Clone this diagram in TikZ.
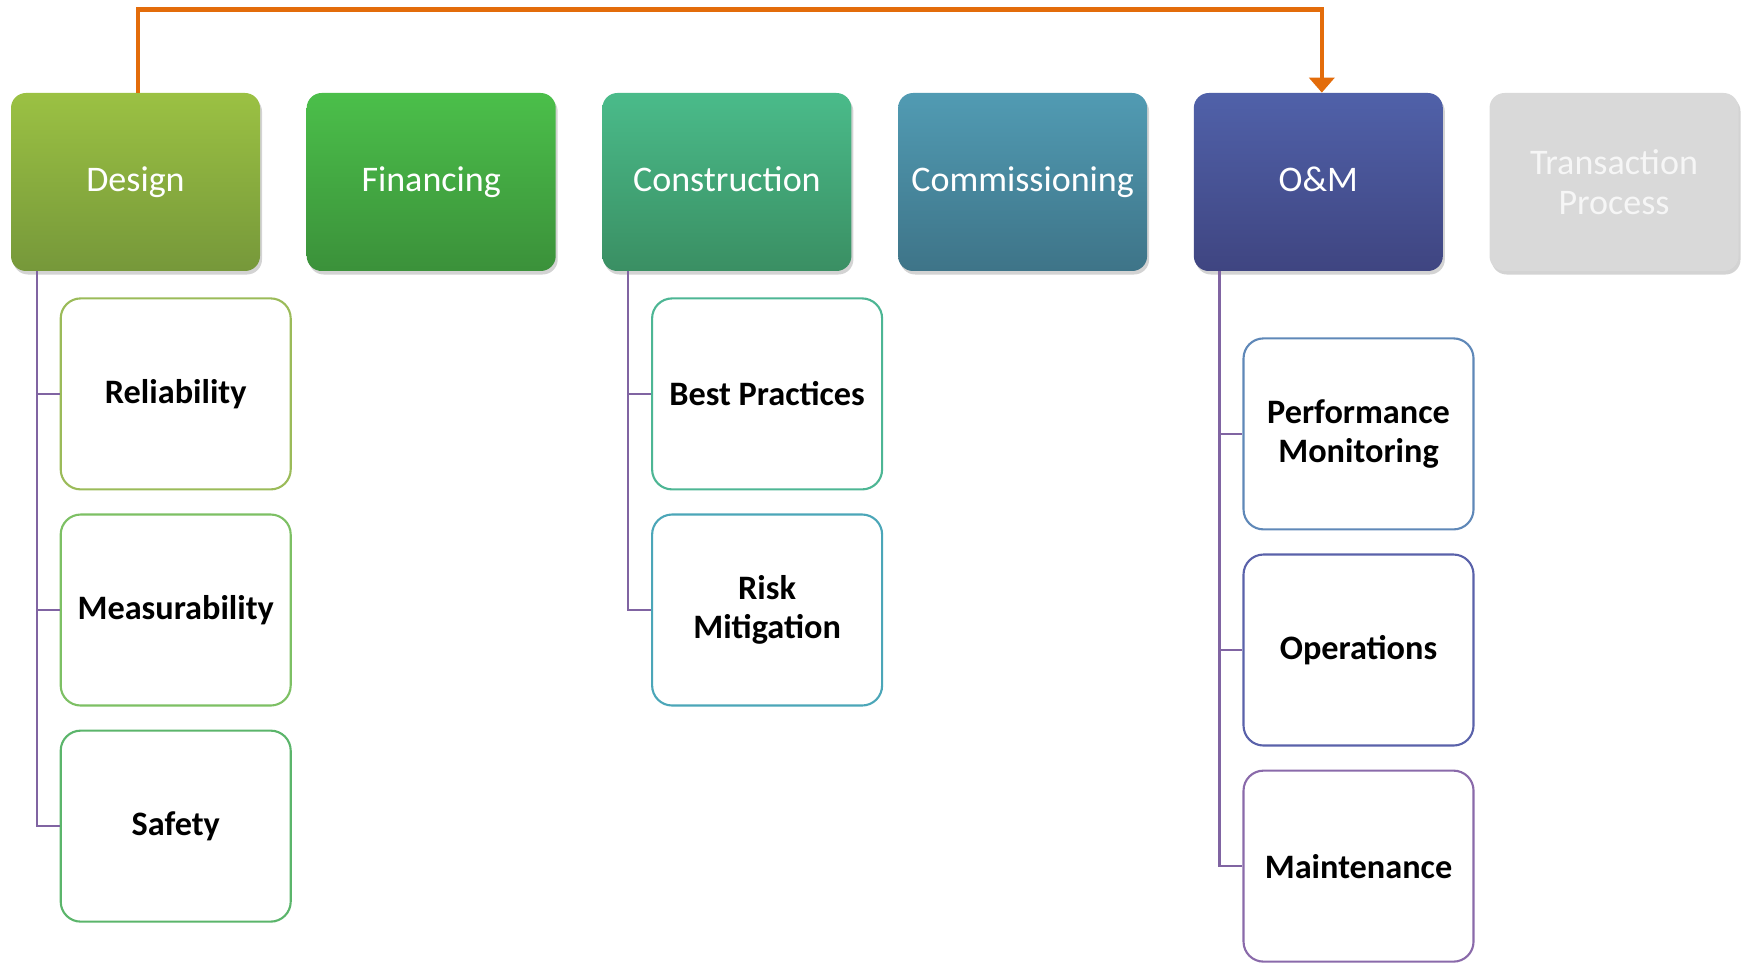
\documentclass[tikz,border=0pt]{standalone}
\usepackage{fontspec}
\setmainfont{Carlito}
\usetikzlibrary{positioning,calc,shadows,arrows.meta}

\definecolor{designtop}{HTML}{9BC143}
\definecolor{designbot}{HTML}{76983A}
\definecolor{fintop}{HTML}{4BBF4A}
\definecolor{finbot}{HTML}{3B913A}
\definecolor{constop}{HTML}{4ABB8A}
\definecolor{consbot}{HTML}{3A8F63}
\definecolor{commtop}{HTML}{519BB3}
\definecolor{commbot}{HTML}{3E7488}
\definecolor{omtop}{HTML}{5061A9}
\definecolor{ombot}{HTML}{3F4581}
\definecolor{transgray}{HTML}{D9D9D9}
\definecolor{transtext}{HTML}{F6F6F6}
\definecolor{flowline}{HTML}{E36C0A}
\definecolor{branchline}{HTML}{8064A2}
\definecolor{relline}{HTML}{9BBB59}
\definecolor{measline}{HTML}{7DC064}
\definecolor{safeline}{HTML}{5BB56B}
\definecolor{bestline}{HTML}{4DB694}
\definecolor{riskline}{HTML}{4BA6B8}
\definecolor{perfline}{HTML}{5F88B8}
\definecolor{operline}{HTML}{5A62AA}
\definecolor{maintline}{HTML}{8A6AAA}

\begin{document}
\begin{tikzpicture}[
		phasebox/.style={rectangle, rounded corners=0.3cm, minimum width=4.98cm, minimum height=3.56cm, align=center, text=white, font=\fontsize{20.5}{23}\selectfont, drop shadow={shadow xshift=0.04cm, shadow yshift=-0.07cm, opacity=0.35}},
		phase/.style={phasebox, text height=1.35em, text depth=0.22em},
		task/.style={rectangle, draw, line width=1.2pt, rounded corners=0.4cm, fill=white, minimum width=4.6cm, minimum height=3.82cm, align=center, font=\bfseries\fontsize{19.5}{22}\selectfont},
		branch/.style={draw=branchline, line width=1.3pt},
		flow/.style={draw=flowline, line width=2.5pt, -{Triangle[width=0.5cm, length=0.3cm]}}
	]
		\useasboundingbox (0,0) rectangle (34.84,-19.26);
		
		% phases
		\node[phase, top color=designtop, bottom color=designbot] (design) at (2.71,-3.64) {Design};
		\node[phase, top color=fintop, bottom color=finbot, right=0.92cm of design] (fin) {Financing};
		\node[phase, top color=constop, bottom color=consbot, right=0.92cm of fin] (cons) {Construction};
		\node[phase, top color=commtop, bottom color=commbot, right=0.92cm of cons] (comm) {Commissioning};
		\node[phase, top color=omtop, bottom color=ombot, right=0.92cm of comm] (om) {O\&M};
		\node[phasebox, fill=transgray, text=transtext, right=0.92cm of om] (trans) {Transaction\\Process};
		
		\draw[flow] ($(design.north)+(0.05,0)$) --++ (0,1.66) -| ($(om.north)+(0.07,0)$);
		
		% design tasks
		\node[task, draw=relline, anchor=north west] (rel) at ($(design.south west)+(0.98,-0.52)$) {Reliability};
		\node[task, draw=measline, below=0.46cm of rel] (meas) {Measurability};
		\node[task, draw=safeline, below=0.46cm of meas] (safe) {Safety};
		\coordinate (dtrunk) at ($(design.south west)+(0.52,0)$);
		\draw[branch] (dtrunk) |- (rel.west);
		\draw[branch] (dtrunk) |- (meas.west);
		\draw[branch] (dtrunk) |- (safe.west);
		
		% construction tasks
		\node[task, draw=bestline, anchor=north west] (best) at ($(cons.south west)+(0.98,-0.52)$) {Best Practices};
		\node[task, draw=riskline, below=0.46cm of best] (risk) {Risk\\Mitigation};
		\coordinate (ctrunk) at ($(cons.south west)+(0.52,0)$);
		\draw[branch] (ctrunk) |- (best.west);
		\draw[branch] (ctrunk) |- (risk.west);
		
		% o&m tasks
		\node[task, draw=perfline, anchor=north west] (perf) at ($(om.south west)+(0.98,-1.32)$) {Performance\\Monitoring};
		\node[task, draw=operline, below=0.46cm of perf] (oper) {Operations};
		\node[task, draw=maintline, below=0.46cm of oper] (maint) {Maintenance};
		\coordinate (otrunk) at ($(om.south west)+(0.52,0)$);
		\draw[branch] (otrunk) |- (perf.west);
		\draw[branch] (otrunk) |- (oper.west);
		\draw[branch] (otrunk) |- (maint.west);
	\end{tikzpicture}
\end{document}
